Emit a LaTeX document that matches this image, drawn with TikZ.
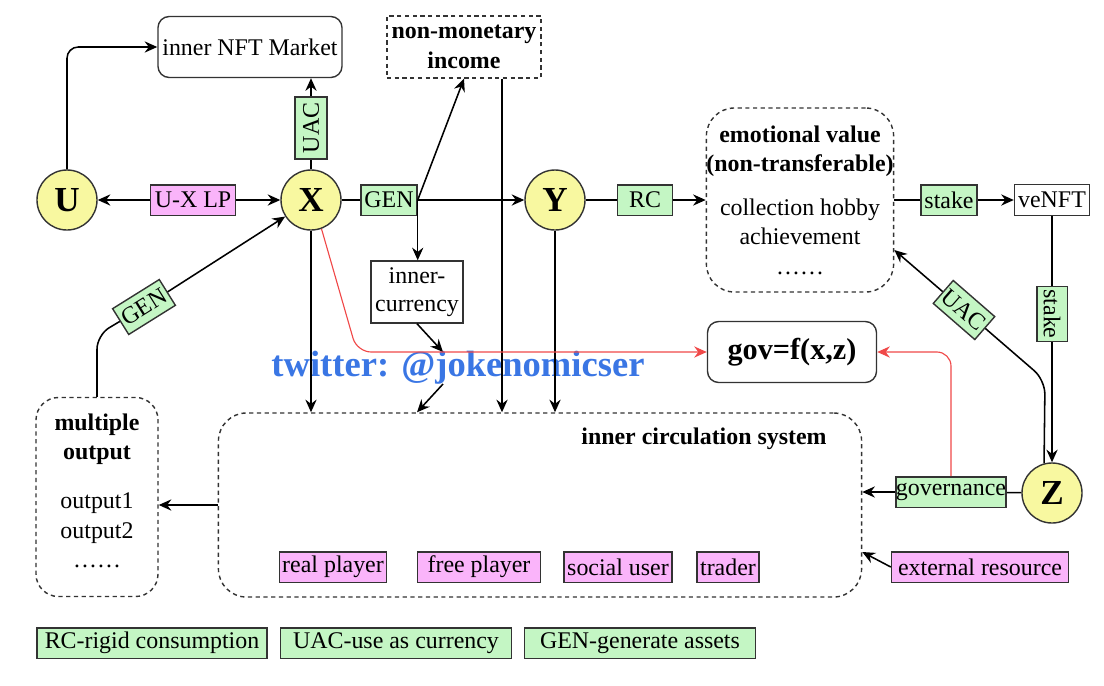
\documentclass[tikz,border=0pt]{standalone}
\usepackage{fontspec}
\setmainfont{Liberation Serif}
\usepackage{tikz}
\usetikzlibrary{arrows.meta,positioning,calc,backgrounds}
\definecolor{edge}{HTML}{333333}
\definecolor{tagg}{HTML}{C4F6C4}
\definecolor{tagm}{HTML}{FAB4FA}
\definecolor{ballc}{HTML}{F8F8A0}
\definecolor{redl}{HTML}{F04848}
\definecolor{wmark}{HTML}{3A76E4}
\newcommand\fnorm{\fontsize{17}{21}\selectfont}
\newcommand\fbig{\fontsize{21.5}{26}\selectfont\bfseries}
\newcommand\fball{\fontsize{25}{30}\selectfont\bfseries}

\begin{document}
\begin{tikzpicture}[x=0.025cm,y=-0.025cm,line width=1.1pt,>={Stealth[length=9pt,width=8pt,inset=3pt]},font=\fnorm,
  ball/.style={circle,draw=edge,fill=ballc,line width=1pt,minimum size=1.5cm,inner sep=0pt,font=\fball},
  tag/.style={draw=edge,fill=tagg,line width=1pt,inner sep=0pt,minimum height=0.76cm},
  ptag/.style={tag,fill=tagm},
  box/.style={draw=edge,line width=1pt,inner sep=0pt,align=center},
  dbox/.style={box,dash pattern=on 3pt off 2.5pt},
  under/.style={line width=1.1pt,rounded corners=10pt},
  redarr/.style={->,draw=redl,line width=0.8pt,rounded corners=10pt}]
\useasboundingbox (0,0) rectangle (1104,685);
\node (tw) [font=\fontsize{26}{30}\selectfont\bfseries,text=wmark] at (458,368) {twitter: @jokenomicser};

\node (U) [ball] at (67,200) {U};
\node (X) [ball] at (311,200) {X};
\node (Y) [ball] at (555,200) {Y};
\node (Z) [ball] at (1052,493) {Z};

\node (nft) [box,rounded corners=8pt,minimum width=4.6cm,minimum height=1.525cm] at (250,47) {inner NFT Market};
\node (nmi) [dbox,minimum width=3.85cm,minimum height=1.55cm,font=\fnorm\bfseries] at (464,47) {non-monetary\\income};
\node (uxlp) [ptag,minimum width=2.125cm] at (193,200) {U-X LP};
\node (uac1) [tag,rotate=90,minimum width=1.55cm,minimum height=0.8cm] at (311,128) {UAC};
\node (gen1) [tag,minimum width=1.4cm] at (389,200) {GEN};
\node (cur) [box,minimum width=2.3cm,minimum height=1.55cm,font=\fontsize{17}{20}\selectfont] at (417,292) {inner-\\currency};
\node (rc) [tag,minimum width=1.375cm] at (645,200) {RC};
\node (emo) [dbox,rounded corners=20pt,minimum width=4.625cm,minimum height=4.6cm] at (800,200)
  {\textbf{emotional value}\\\textbf{(non-transferable)}\\[10pt]collection hobby\\achievement\\……};
\node (stake1) [tag,minimum width=1.4cm] at (949,200) {stake};
\node (venft) [box,minimum width=1.875cm,minimum height=0.775cm] at (1052,200) {veNFT};
\node (stake2) [tag,rotate=-90,minimum width=1.375cm] at (1052,314) {stake};
\node (uac2) [tag,rotate=-41,minimum width=1.375cm] at (964,310) {UAC};
\node (gov) [box,rounded corners=8pt,minimum width=4.225cm,minimum height=1.525cm,font=\fbig] at (792,352) {gov=f(x,z)};
\node (gvn) [tag,minimum width=2.725cm] at (951,492) {governance};
\node (ext) [ptag,minimum width=4.425cm] at (980,567) {external resource};

\node (ics) [dbox,rounded corners=20pt,minimum width=16.075cm,minimum height=4.6cm] at (540,505) {};
\node (icst) [font=\fnorm\bfseries] at (704,439) {inner circulation system};
\node (real) [ptag,minimum width=2.675cm] at (333,567) {real player};
\node (free) [ptag,minimum width=3.075cm] at (479,567) {free player};
\node (soc) [ptag,minimum width=2.7cm] at (618,567) {social user};
\node (trd) [ptag,minimum width=1.55cm] at (728,567) {trader};

\node (mo) [dbox,rounded corners=16pt,minimum width=3.05cm,minimum height=4.975cm] at (97,497)
  {\textbf{multiple}\\\textbf{output}\\[14pt]output1\\output2\\……\\[-12pt]\mbox{}};
\node (gen2) [tag,rotate=32,minimum width=1.375cm] at (144,307) {GEN};

\node (lrc) [tag,minimum width=5.75cm] at (152,643) {RC-rigid consumption};
\node (luac) [tag,minimum width=5.775cm] at (396,643) {UAC-use as currency};
\node (lgen) [tag,minimum width=5.775cm] at (640,643) {GEN-generate assets};

\coordinate (c1) at (443,352);
\coordinate (c2) at (443,384);

\draw[->,rounded corners=8pt] (U) -- (U |- nft.west) -- (nft);
\draw[<-] (U) -- (uxlp);
\draw[->] (uxlp) -- (X);
\draw (X) -- (uac1);
\draw[->] (uac1) -- (uac1 |- nft.south);
\draw (X) -- (gen1);
\draw[->] (gen1) -- (Y);
\draw[->] (gen1.east) -- (nmi.south);
\draw[->] (gen1.east) -- (gen1.east |- cur.north);
\draw[->] ([xshift=0.95cm]nmi.south) -- ([xshift=0.95cm]nmi.south |- ics.north);
\draw[->] (X) -- (X |- ics.north);
\draw[->] (Y) -- (Y |- ics.north);
\draw[->] (cur.south) -- (c1);
\draw[->] (c2) -- (cur.south |- ics.north);
\draw (Y) -- (rc);
\draw[->] (rc) -- (emo);
\draw (emo) -- (stake1);
\draw[->] (stake1) -- (venft);
\draw (venft) -- (stake2);
\draw[->] (stake2) -- (Z);
\draw (Z) -- (gvn);
\draw[->] (gvn) -- (gvn -| ics.east);
\draw[->] (ext.west) -- ([yshift=-1.175cm]ics.east);
\draw[->] (ics.west) -- (ics.west -| mo.east);
\begin{scope}[on background layer]
\draw[under] (Z.105) -- (1045,380) -- (uac2.center);
\draw[under,->] (uac2.center) -- ([yshift=-1.25cm]emo.east);
\draw[under] (mo) -- (97,335) -- (gen2.center);
\draw[under,->] (gen2.center) -- (X);
\end{scope}
\draw[redarr] (X.-70) -- (357,352) -- (gov);
\draw[redarr] (gvn) |- (gov);
\end{tikzpicture}
\end{document}
